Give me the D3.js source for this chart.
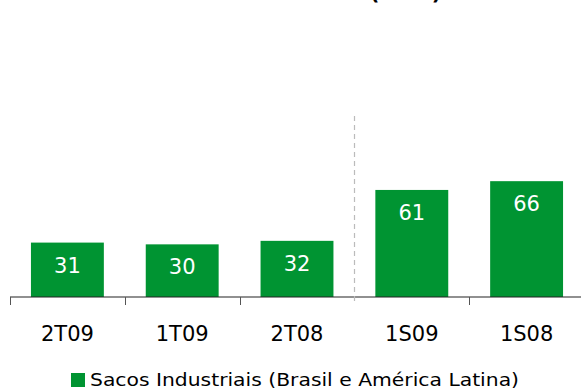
<!DOCTYPE html>
<html>
<head>
<meta charset="utf-8">
<script src="https://cdn.jsdelivr.net/npm/d3@7"></script>
<style>
  html, body { margin: 0; padding: 0; background: #fff; }
  svg { display: block; }
  text { font-family: Verdana, "DejaVu Sans", sans-serif; }
</style>
</head>
<body>
<svg id="chart" width="581" height="389"></svg>
<script>
// Volume de vendas por período (mil t)
const categories = ["2T09", "1T09", "2T08", "1S09", "1S08"];
const values = [31, 30, 32, 61, 66];
const seriesName = "Sacos Industriais (Brasil e América Latina)";
const title = "Volume de Vendas (mil t)";

const W = 581, H = 389;
const baseY = 297;
const green = "#009432";

const svg = d3.select("#chart");

const x = d3.scaleBand()
  .domain(categories)
  .range([10, 584])
  .paddingInner(0.365)
  .paddingOuter(0.1825);

const y = d3.scaleLinear()
  .domain([0, 70])
  .range([baseY, baseY - 70 * 1.755]);

// Title (runs off the top edge)
svg.append("text")
  .attr("x", 296)
  .attr("y", 0)
  .attr("text-anchor", "middle")
  .attr("font-size", 20)
  .attr("font-weight", "bold")
  .attr("fill", "#000")
  .attr("textLength", 290)
  .attr("lengthAdjust", "spacingAndGlyphs")
  .text(title);

// Bars
svg.selectAll("rect.bar")
  .data(values)
  .join("rect")
  .attr("class", "bar")
  .attr("x", (d, i) => x(categories[i]))
  .attr("y", d => y(d))
  .attr("width", x.bandwidth())
  .attr("height", d => y(0) - y(d))
  .attr("fill", green);

// Value labels inside bars
svg.selectAll("text.val")
  .data(values)
  .join("text")
  .attr("class", "val")
  .attr("x", (d, i) => x(categories[i]) + x.bandwidth() / 2)
  .attr("y", d => y(d) + 30)
  .attr("text-anchor", "middle")
  .attr("font-size", 21)
  .attr("fill", "#fff")
  .text(d => d);

// Category axis: baseline with ticks at band boundaries
const step = x.step();
const x0 = x.range()[0];
svg.append("line")
  .attr("x1", x0).attr("x2", W)
  .attr("y1", baseY).attr("y2", baseY)
  .attr("stroke", "#222").attr("stroke-width", 1.2);

const tickXs = d3.range(categories.length).map(i => x0 + i * step);
svg.selectAll("line.tick")
  .data(tickXs.filter((t, i) => i !== 3))
  .join("line")
  .attr("class", "tick")
  .attr("x1", d => Math.round(d) + 0.5).attr("x2", d => Math.round(d) + 0.5)
  .attr("y1", baseY).attr("y2", baseY + 8)
  .attr("stroke", "#555").attr("stroke-width", 1);

// Dashed separator between quarters and semesters
const sepX = Math.round(tickXs[3]) + 0.5;
svg.append("line")
  .attr("x1", sepX).attr("x2", sepX)
  .attr("y1", 116).attr("y2", baseY + 8)
  .attr("stroke", "#bbb").attr("stroke-width", 1.2)
  .attr("stroke-dasharray", "5,4");

// Category labels
svg.selectAll("text.cat")
  .data(categories)
  .join("text")
  .attr("class", "cat")
  .attr("x", d => x(d) + x.bandwidth() / 2)
  .attr("y", 341)
  .attr("text-anchor", "middle")
  .attr("font-size", 21)
  .attr("fill", "#000")
  .text(d => d);

// Legend
const legend = svg.append("g");
legend.append("rect")
  .attr("x", 71).attr("y", 373)
  .attr("width", 14).attr("height", 14)
  .attr("fill", green);
legend.append("text")
  .attr("x", 90).attr("y", 386)
  .attr("font-size", 18.5)
  .attr("fill", "#000")
  .attr("textLength", 429)
  .attr("lengthAdjust", "spacingAndGlyphs")
  .text(seriesName);
</script>
</body>
</html>
